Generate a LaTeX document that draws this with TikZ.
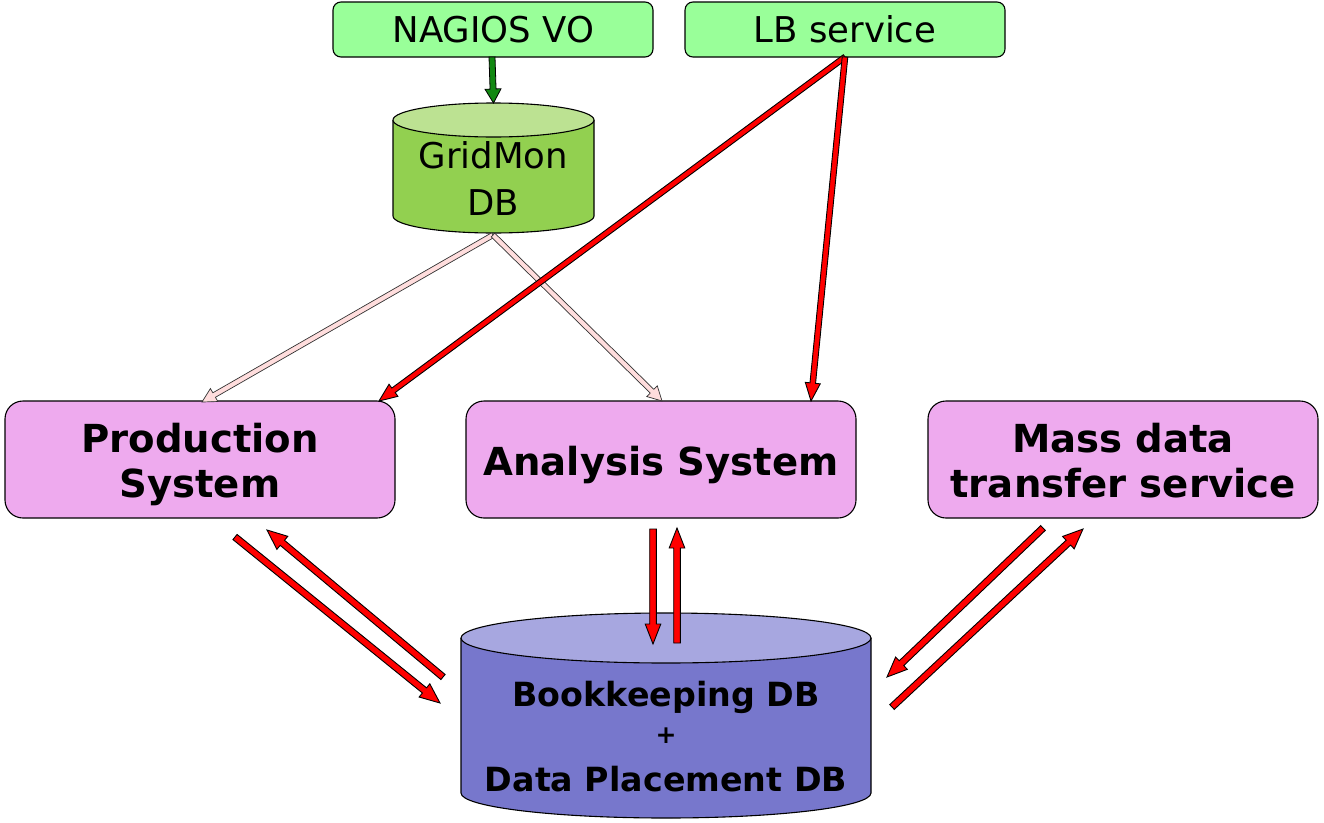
\documentclass[tikz,border=0pt]{standalone}
\usepackage{fontspec}
\setmainfont{DejaVu Sans}
\usetikzlibrary{calc}
\definecolor{boxgreen}{HTML}{99FF99}
\definecolor{gmbody}{HTML}{92D050}
\definecolor{gmtop}{HTML}{BCE292}
\definecolor{pinkbox}{HTML}{EEAAEE}
\definecolor{bkbody}{HTML}{7777CC}
\definecolor{bktop}{HTML}{A7A7E0}
\definecolor{arrowpink}{HTML}{FFDDDD}
\definecolor{darkgreen}{HTML}{118811}
% #1 style, #2 from, #3 to, #4 half width, #5 head half width, #6 head length
\newcommand\fatarrow[6]{%
  \coordinate (fabase) at ($(#3)!#6!(#2)$);
  \draw[#1] ($(#2)!#4!90:(#3)$) -- ($(fabase)!#4!90:(#3)$) -- ($(fabase)!#5!90:(#3)$) -- (#3)
    -- ($(fabase)!#5!-90:(#3)$) -- ($(fabase)!#4!-90:(#3)$) -- ($(#2)!#4!-90:(#3)$) -- cycle;}
\begin{document}
\begin{tikzpicture}[x=1pt,y=-1pt,
  greenbox/.style={draw=black, line width=1.1pt, fill=boxgreen, rounded corners=8pt,
    minimum width=320pt, minimum height=55pt, inner sep=0pt},
  pinkboxst/.style={draw=black, line width=1.1pt, fill=pinkbox, rounded corners=18pt,
    minimum width=390pt, minimum height=117pt, inner sep=0pt},
  regtxt/.style={font=\fontsize{35.5}{42}\selectfont, anchor=base, inner sep=0pt},
  boldtxt/.style={font=\fontsize{38.6}{45}\selectfont\bfseries, anchor=base, inner sep=0pt},
  bktxt/.style={font=\fontsize{33.3}{40}\selectfont\bfseries, anchor=base, inner sep=0pt},
  redarrow/.style={draw=black, fill=red, line width=0.9pt, line join=miter},
  pinkarrow/.style={draw=black!80, fill=arrowpink, line width=0.7pt, line join=miter},
  greenarrow/.style={draw=black, fill=darkgreen, line width=0.8pt, line join=miter},
  cylline/.style={draw=black, line width=1.1pt}
]
\useasboundingbox (0,0) rectangle (1324,822);

% top boxes
\node[greenbox] (nagios) at (493,29.5) {};
\node[regtxt] (nagiostxt) at (493.5,42) {NAGIOS VO};
\node[greenbox] (lb) at (845,29.5) {};
\node[regtxt] (lbtxt) at (845,42) {LB service};

% GridMon cylinder
\fill[gmbody] (393,120) -- (393,216) arc[start angle=180,end angle=360,x radius=100.5pt,y radius=17pt] -- (594,120) -- cycle;
\draw[cylline] (393,120) -- (393,216) arc[start angle=180,end angle=360,x radius=100.5pt,y radius=17pt] -- (594,120);
\draw[cylline, fill=gmtop] (493.5,120) ellipse[x radius=100.5pt, y radius=17pt];
\coordinate (gmtopc) at (493.5,103);
\coordinate (gmbot) at (493,235);
\node[regtxt] (gm1) at (493.5,168) {GridMon};
\node[regtxt] (gm2) at (493.5,215) {DB};

% pink boxes
\node[pinkboxst] (prod) at (200,459.5) {};
\node[boldtxt] (prod1) at (200,452) {Production};
\node[boldtxt] (prod2) at (200,497) {System};
\node[pinkboxst] (ana) at (661,459.5) {};
\node[boldtxt] (ana1) at (661,475) {Analysis System};
\node[pinkboxst] (mass) at (1123,459.5) {};
\node[boldtxt] (mass1) at (1123,452) {Mass data};
\node[boldtxt] (mass2) at (1123,497) {transfer service};

% Bookkeeping cylinder
\fill[bkbody] (461,638) -- (461,793) arc[start angle=180,end angle=360,x radius=205pt,y radius=25pt] -- (871,638) -- cycle;
\draw[cylline] (461,638) -- (461,793) arc[start angle=180,end angle=360,x radius=205pt,y radius=25pt] -- (871,638);
\draw[cylline, fill=bktop] (666,638) ellipse[x radius=205pt, y radius=25pt];
\node[bktxt] (bk1) at (666,706) {Bookkeeping DB};
\node[font=\fontsize{25}{28}\selectfont\bfseries, inner sep=0pt] (bk2) at (666,735.5) {+};
\node[bktxt] (bk3) at (666,791) {Data Placement DB};

% connector end points
\coordinate (nagbot) at (492,57);
\coordinate (lbbot) at (845,57);
\coordinate (prodtopL) at (202,402);
\coordinate (prodtopR) at (379,401);
\coordinate (anatopL) at (662,401);
\coordinate (anatopR) at (811,401);

% green arrow
\fatarrow{greenarrow}{nagbot}{gmtopc}{3pt}{8pt}{14pt}

% GridMon arrows
\fatarrow{pinkarrow}{gmbot}{prodtopL}{2.6pt}{7.5pt}{14pt}
\fatarrow{pinkarrow}{gmbot}{anatopL}{2.6pt}{7.5pt}{14pt}

% LB arrows
\fatarrow{redarrow}{lbbot}{prodtopR}{2.8pt}{7.5pt}{18pt}
\fatarrow{redarrow}{lbbot}{anatopR}{2.8pt}{7.5pt}{18pt}

% Analysis <-> Bookkeeping
\coordinate (a1s) at (653,529);
\coordinate (a1e) at (653,644);
\coordinate (a2s) at (677,643);
\coordinate (a2e) at (677,528);
\fatarrow{redarrow}{a1s}{a1e}{3.3pt}{7.8pt}{20pt}
\fatarrow{redarrow}{a2s}{a2e}{3.3pt}{7.8pt}{20pt}

% Production <-> Bookkeeping
\coordinate (p1s) at (235,537);
\coordinate (p1e) at (440,703);
\coordinate (p2s) at (443,677);
\coordinate (p2e) at (267,530);
\fatarrow{redarrow}{p1s}{p1e}{3.3pt}{8.5pt}{20pt}
\fatarrow{redarrow}{p2s}{p2e}{3.3pt}{8.5pt}{20pt}

% Mass <-> Bookkeeping
\coordinate (m1s) at (1043,528);
\coordinate (m1e) at (887,677);
\coordinate (m2s) at (892,707);
\coordinate (m2e) at (1083,529);
\fatarrow{redarrow}{m1s}{m1e}{3.3pt}{8.5pt}{20pt}
\fatarrow{redarrow}{m2s}{m2e}{3.3pt}{8.5pt}{20pt}
\end{tikzpicture}
\end{document}
